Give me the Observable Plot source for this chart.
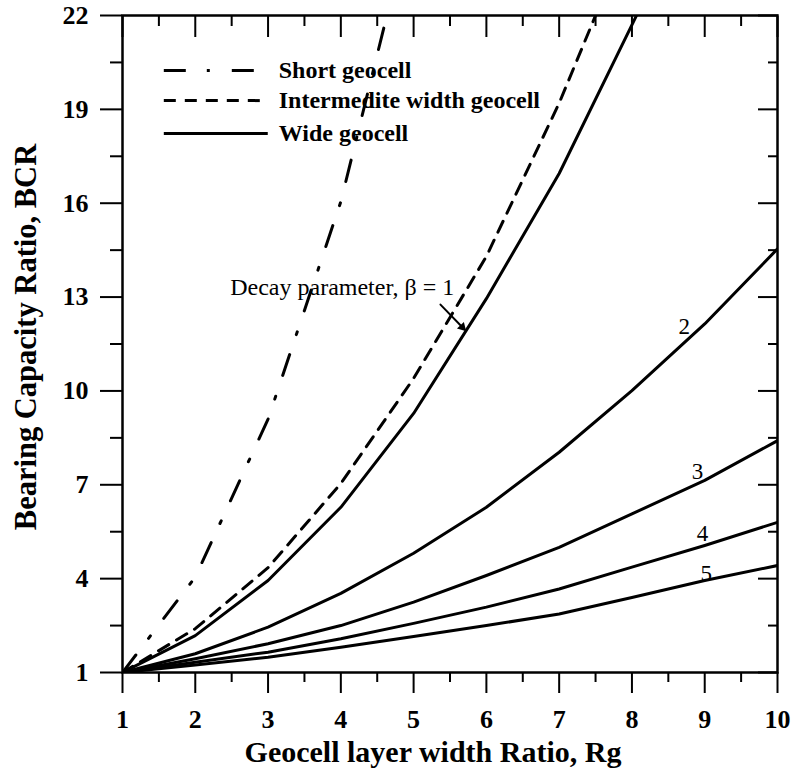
<!DOCTYPE html>
<html>
<head>
<meta charset="utf-8">
<script src="https://cdn.jsdelivr.net/npm/d3@7"></script>
<script src="https://cdn.jsdelivr.net/npm/@observablehq/plot@0.6"></script>
<style>
  html, body { margin: 0; padding: 0; background: #fff; }
  #chart svg { display: block; }
</style>
</head>
<body>
<div id="chart"></div>
<script>
// ---------- data ----------
const rg = [1, 2, 3, 4, 5, 6, 7, 8, 9, 10];
const shortGeocell        = [1, 4.05, 9.1, 16.05, 25.45];
const intermediateGeocell = [1, 2.4, 4.35, 7.04, 10.4, 14.3, 19.2, 24.8];
const wideBeta1 = [1, 2.18, 3.94, 6.28, 9.28, 12.95, 16.95, 21.7, 26.5];
const wideBeta2 = [1, 1.6, 2.45, 3.53, 4.81, 6.28, 8.04, 10.01, 12.14, 14.54];
const wideBeta3 = [1, 1.44, 1.92, 2.5, 3.25, 4.1, 5.0, 6.07, 7.14, 8.41];
const wideBeta4 = [1, 1.33, 1.65, 2.08, 2.57, 3.09, 3.67, 4.37, 5.06, 5.8];
const wideBeta5 = [1, 1.24, 1.49, 1.81, 2.15, 2.5, 2.87, 3.4, 3.94, 4.42];

const xMajor = [1, 2, 3, 4, 5, 6, 7, 8, 9, 10];
const xMinor = [1.5, 2.5, 3.5, 4.5, 5.5, 6.5, 7.5, 8.5, 9.5];
const yMajor = [1, 4, 7, 10, 13, 16, 19, 22];
const yMinor = [2.5, 5.5, 8.5, 11.5, 14.5, 17.5, 20.5];

const legendLabels = ["Short geocell", "Intermedite width geocell", "Wide geocell"];
const legendY = [20.24, 19.28, 18.23];
const betaLabels = ["2", "3", "4", "5"];
const betaLabelX = [8.72, 8.90, 8.97, 9.02];
const betaLabelY = [12.06, 7.43, 5.45, 4.15];
const decayText = "Decay parameter, \u03B2 = 1";
const decayPos = [2.48, 13.32];
const arrowFrom = [5.369, 12.76];
const arrowTo = [5.737, 11.876];
const xTitle = "Geocell layer width Ratio, Rg";
const yTitle = "Bearing Capacity Ratio, BCR";

// ---------- tables ----------
const toRows = (vals, series) => vals.map((v, i) => ({rg: rg[i], bcr: v, series}));
const shortRows = toRows(shortGeocell, "short");
const interRows = toRows(intermediateGeocell, "intermediate");
const wideRows = [
  ...toRows(wideBeta1, "b1"), ...toRows(wideBeta2, "b2"), ...toRows(wideBeta3, "b3"),
  ...toRows(wideBeta4, "b4"), ...toRows(wideBeta5, "b5")
];
const dashShort = "22,21,3,22";
const dashInter = "12,9";
const legendDashes = [dashShort, dashInter, null];

const serif = "'Liberation Serif', 'Times New Roman', Times, serif";
const noLabel = () => "";

const legendLines = legendLabels.map((lab, i) =>
  Plot.link([lab], {x1: 1.5675, x2: 2.996, y1: legendY[i], y2: legendY[i],
    stroke: "black", strokeWidth: 3, ...(legendDashes[i] ? {strokeDasharray: legendDashes[i]} : {})}));

const chart = Plot.plot({
  width: 793,
  height: 769,
  marginLeft: 122,
  marginRight: 16,
  marginTop: 15,
  marginBottom: 97,
  style: {fontFamily: serif, color: "black", background: "white"},
  x: {domain: [1, 10], axis: null},
  y: {domain: [1, 22], axis: null},
  marks: [
    // curves
    Plot.line(wideRows, {x: "rg", y: "bcr", z: "series", stroke: "black", strokeWidth: 3, strokeLinejoin: "round", clip: true}),
    Plot.line(interRows, {x: "rg", y: "bcr", stroke: "black", strokeWidth: 3, strokeDasharray: dashInter, clip: true}),
    Plot.line(shortRows, {x: "rg", y: "bcr", stroke: "black", strokeWidth: 3, strokeDasharray: dashShort, clip: true}),

    // axes: bottom (outward), top (inward)
    Plot.axisX(xMajor, {anchor: "bottom", tickSize: 21, tickPadding: 16, fontSize: 26, fontWeight: "bold", strokeWidth: 2, label: null}),
    Plot.axisX(xMinor, {anchor: "bottom", tickSize: 10, tickFormat: noLabel, strokeWidth: 2, label: null}),
    Plot.axisX(xMajor, {anchor: "top", tickSize: -21, tickFormat: noLabel, strokeWidth: 2, label: null}),
    Plot.axisX(xMinor, {anchor: "top", tickSize: -10, tickFormat: noLabel, strokeWidth: 2, label: null}),
    // left (outward), right (inward)
    Plot.axisY(yMajor, {anchor: "left", tickSize: 22, tickPadding: 12, fontSize: 26, fontWeight: "bold", strokeWidth: 2, label: null}),
    Plot.axisY(yMinor, {anchor: "left", tickSize: 12, tickFormat: noLabel, strokeWidth: 2, label: null}),
    Plot.axisY(yMajor, {anchor: "right", tickSize: -20, tickFormat: noLabel, strokeWidth: 2, label: null}),
    Plot.axisY(yMinor, {anchor: "right", tickSize: -10, tickFormat: noLabel, strokeWidth: 2, label: null}),
    Plot.frame({stroke: "black", strokeWidth: 2.5}),

    // legend
    ...legendLines,
    Plot.text(legendLabels, {x: 3.147, y: (d, i) => legendY[i], text: d => d, textAnchor: "start",
      fontSize: 24, fontWeight: "bold", fill: "black"}),

    // beta labels
    Plot.text(betaLabels, {x: (d, i) => betaLabelX[i], y: (d, i) => betaLabelY[i], text: d => d,
      fontSize: 23, fill: "black"}),
    Plot.text([decayText], {x: decayPos[0], y: decayPos[1], text: d => d, textAnchor: "start", fontSize: 24, fill: "black"}),

    // arrow
    Plot.arrow([0], {x1: arrowFrom[0], y1: arrowFrom[1], x2: arrowTo[0], y2: arrowTo[1],
      stroke: "black", strokeWidth: 2, headLength: 0, insetEnd: 8}),
    Plot.dot([0], {x: arrowTo[0], y: arrowTo[1], symbol: "triangle2", r: 4.6, rotate: 136,
      dx: -4.9, dy: -5, fill: "black", stroke: "none"}),

    // axis titles
    Plot.text([xTitle], {frameAnchor: "bottom", textAnchor: "middle", dx: -17, dy: 89, lineAnchor: "bottom", text: d => d,
      fontSize: 30, fontWeight: "bold", fill: "black"}),
    Plot.text([yTitle], {frameAnchor: "left", textAnchor: "middle", dx: -87, dy: -7, rotate: -90, lineAnchor: "bottom", text: d => d,
      fontSize: 30.5, fontWeight: "bold", fill: "black"})
  ]
});
document.getElementById("chart").append(chart);
</script>
</body>
</html>
